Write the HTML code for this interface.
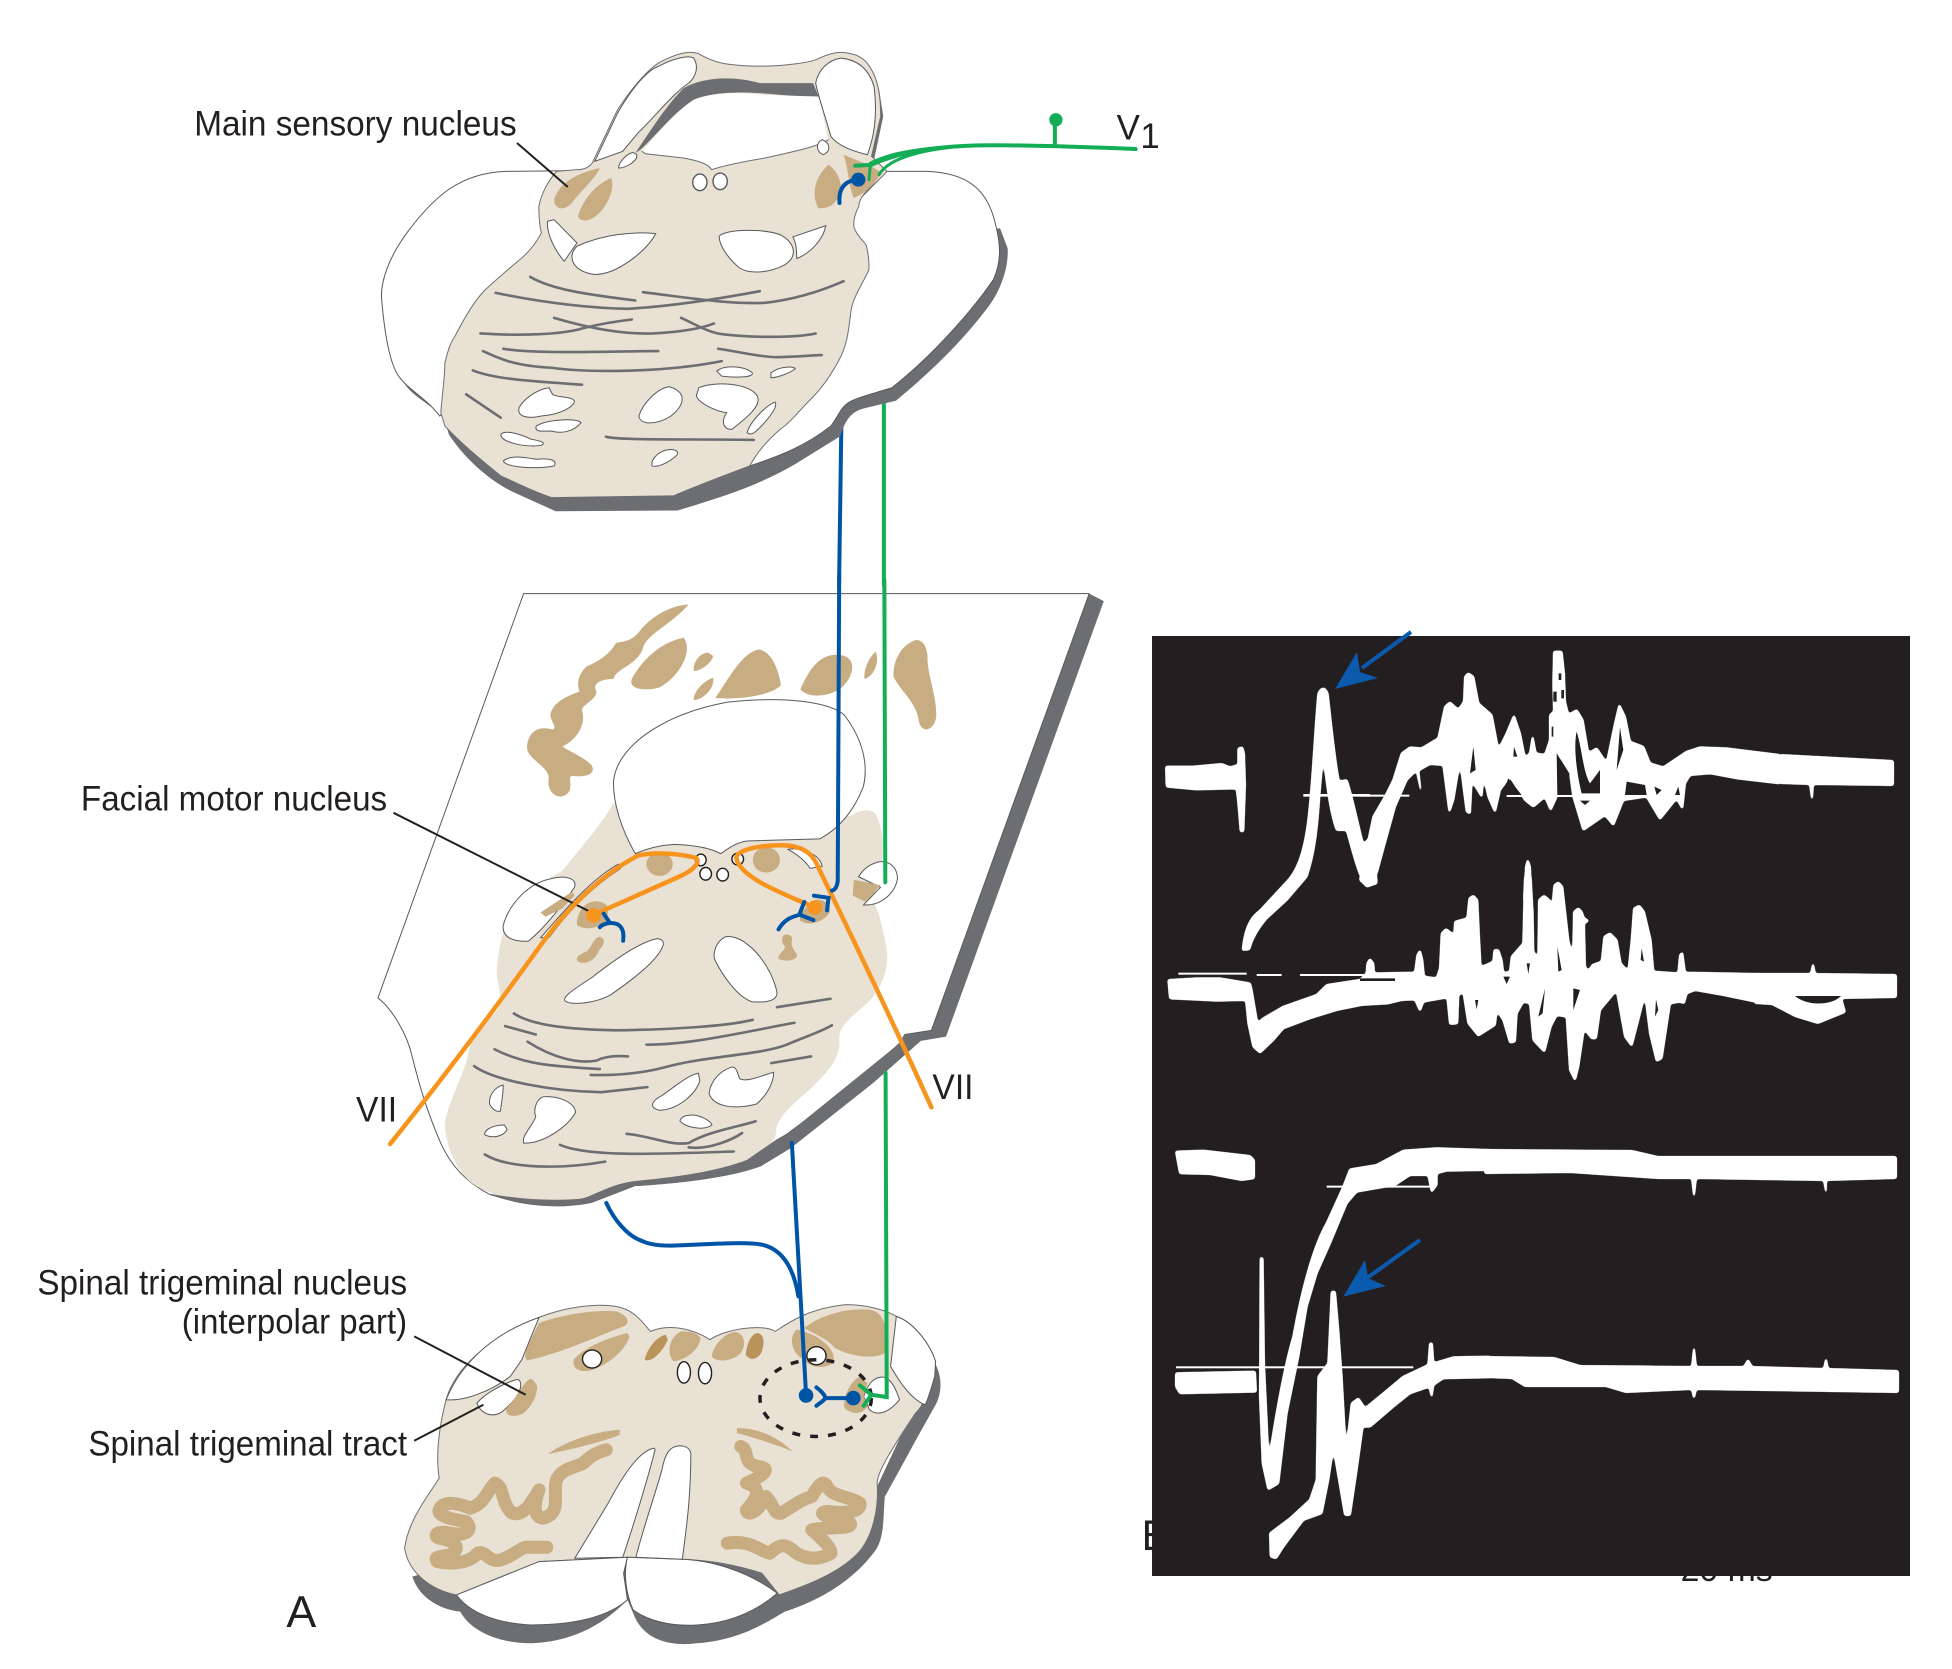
<!DOCTYPE html>
<html><head><meta charset="utf-8"><title>Trigeminal diagram</title>
<style>
html,body{margin:0;padding:0;background:#fff;width:1952px;height:1669px;overflow:hidden}
svg{display:block}
path,ellipse,line,polygon,rect{vector-effect:non-scaling-stroke}
text{font-family:"Liberation Sans",sans-serif;fill:#231f20}
.b{fill:#e9e1d3;stroke:#6d6e71;stroke-width:1}
.bn{fill:#e9e1d3;stroke:none}
.h{fill:#fff;stroke:#58595b;stroke-width:1}
.k{fill:#fff;stroke:#231f20;stroke-width:1.4}
.t{fill:#c8ac82;stroke:none}
.d{fill:#b99359;stroke:none}
.g{fill:#6d6e71;stroke:none}
.f{fill:none;stroke:#6d6e71;stroke-width:2.6;stroke-linecap:round}
.blue{fill:none;stroke:#0054a6;stroke-width:4;stroke-linecap:round;stroke-linejoin:miter}
.green{fill:none;stroke:#12ad55;stroke-width:4;stroke-linecap:round}
.orange{fill:none;stroke:#f7941d;stroke-width:4.5;stroke-linecap:round;stroke-linejoin:round}
.c{fill:none;stroke:#c8ac82;stroke-width:13;stroke-linecap:round;stroke-linejoin:round}
.w{fill:#fff;stroke:none}
.tr{fill:#fff;stroke:#fff;stroke-width:1.5;stroke-linejoin:round;filter:url(#s1)}
.tr2{fill:#fff;stroke:#fff;stroke-width:1.5;stroke-linejoin:round;filter:url(#s2)}
.dk{fill:#231f20;stroke:none}
.lab{fill:none;stroke:#231f20;stroke-width:2}
</style></head><body>
<svg xmlns="http://www.w3.org/2000/svg" width="1952" height="1669" viewBox="0 0 1568 1340.7">
<defs>
<filter id="s1" x="-10%" y="-10%" width="120%" height="120%"><feGaussianBlur stdDeviation="4"/><feComponentTransfer><feFuncA type="linear" slope="5" intercept="-1.5"/></feComponentTransfer></filter>
<filter id="s2" x="-10%" y="-20%" width="120%" height="140%"><feGaussianBlur stdDeviation="1.3"/><feComponentTransfer><feFuncA type="linear" slope="5" intercept="-1.5"/></feComponentTransfer></filter>
</defs>
<rect x="0" y="0" width="1568" height="1341" fill="#fff"/>

<!-- SECTION 2 -->
<g transform="matrix(.39 0 0 .338 288 466)">
<path class="g" d="M1505,32L1535,50L1210,1085L1158,1095L1060,1195L890,1350L830,1392C770,1420 650,1435 570,1440L480,1480C420,1495 330,1490 270,1458L600,1200L1100,1060Z"/>
<path class="h" d="M340,32L1505,32L1180,1070L1125,1080L1115,1100C1040,1180 960,1250 890,1310L800,1390L300,1470L270,1460C220,1430 190,1390 170,1340C140,1260 125,1200 110,1130C100,1080 70,1020 40,993Z"/>
<path class="bn" d="M525,530C500,580 470,620 420,690C380,720 340,740 320,780C295,830 285,890 285,940C290,980 300,1000 280,1030C250,1060 230,1090 225,1130C215,1180 185,1240 178,1290C178,1340 200,1400 230,1430C260,1460 330,1478 400,1480C450,1478 490,1460 540,1440C600,1430 700,1420 800,1380C830,1350 860,1340 860,1310C860,1280 890,1250 930,1210C960,1175 995,1140 990,1090C990,1050 1030,1030 1060,990C1085,950 1095,910 1085,860C1080,830 1075,800 1060,760L1075,680C1085,640 1080,590 1065,555C1050,540 1030,548 1015,560Z"/>
<path class="g" d="M270,1458C330,1472 400,1476 460,1470C490,1460 520,1435 570,1428C650,1420 740,1405 800,1378L860,1330L890,1310L1115,1100L1125,1080L1158,1095L1060,1195L890,1350L830,1392C770,1420 650,1435 570,1440L480,1480C420,1495 330,1490 270,1458Z"/>
<g class="t">
<path d="M680,58C640,60 600,90 580,120C560,150 540,145 530,150C515,180 490,195 470,205C450,225 450,250 455,265C430,275 400,290 395,320C395,335 410,350 400,355C370,345 350,360 347,395C345,425 390,440 392,470C385,510 420,530 435,500C440,480 430,470 440,465C470,470 490,460 480,440C465,420 430,405 420,395C450,380 470,340 460,310C460,295 490,285 490,265C480,245 500,235 525,235C530,210 570,205 585,165C590,130 640,110 680,58Z"/>
<path d="M670,137C630,145 590,180 565,230C550,260 590,265 620,255C660,230 690,170 670,137Z"/>
<path d="M720,172C700,175 690,195 690,215C700,220 730,195 730,180Z"/>
<path d="M730,232C710,240 690,265 690,285C710,285 735,255 730,232Z"/>
<path d="M825,165C790,170 760,240 735,280C780,285 850,275 870,250C865,210 850,170 825,165Z"/>
<path d="M1000,180C950,165 925,220 910,260C930,285 980,275 1000,250C1020,225 1025,190 1000,180Z"/>
<path d="M1065,170C1050,185 1040,215 1042,235C1060,230 1075,195 1065,170Z"/>
<path d="M1150,142C1120,150 1100,190 1102,230C1120,270 1150,290 1155,340C1165,370 1190,350 1190,320C1190,270 1170,220 1172,180C1170,160 1165,145 1150,142Z"/>
</g>
<path class="h" d="M525,480C530,400 620,320 760,290C880,275 970,290 1000,320C1040,380 1050,440 1040,490C1020,550 990,590 950,615L800,620C770,625 750,650 745,650C730,640 700,630 650,628C620,630 590,640 570,650C540,590 525,530 525,480Z"/>
<path class="h" d="M395,710C430,700 450,710 445,730C420,770 390,820 350,858C320,860 295,850 298,820C310,770 350,720 395,710Z"/>
<path class="h" d="M1070,670C1090,665 1110,680 1110,710C1105,745 1075,775 1040,772L1075,730L1030,705C1040,685 1055,675 1070,670Z"/>
<path class="t" d="M1020,712L1075,725L1045,765L1018,750Z"/>
<path class="t" d="M440,740L375,790L385,800L420,780L445,750Z"/>
<path class="h" d="M885,640C910,635 950,650 955,680L930,685C920,665 900,650 885,640Z"/>
<path class="h" d="M535,675C480,710 420,790 375,850L392,850C430,790 480,730 540,685Z"/>
<ellipse class="k" cx="705" cy="665" rx="11" ry="14"/><ellipse class="k" cx="715" cy="698" rx="12" ry="15"/><ellipse class="k" cx="750" cy="700" rx="12" ry="15"/><ellipse class="k" cx="781" cy="663" rx="12" ry="14"/>
<ellipse class="t" cx="620" cy="675" rx="27" ry="28"/><ellipse class="t" cx="840" cy="665" rx="28" ry="30"/>
<path class="t" d="M480,765C460,770 448,800 450,820C470,835 490,825 510,815L515,780C510,765 490,760 480,765Z"/>
<path class="t" d="M940,760C920,775 905,800 910,810C930,825 960,810 970,790C975,770 955,755 940,760Z"/>
<path class="t" d="M495,848C480,855 480,880 465,885C445,895 445,905 460,910C480,910 490,895 495,880C505,870 512,850 495,848Z"/>
<path class="t" d="M880,842C870,845 870,860 878,870C880,880 862,890 865,900C875,908 905,905 903,890C895,875 890,870 893,855C895,848 888,842 880,842Z"/>
<path class="h" d="M615,852C580,860 530,900 480,945C440,975 420,990 425,1000C440,1012 490,1005 520,985C570,945 620,900 628,865C628,855 620,852 615,852Z"/>
<path class="h" d="M755,848C735,860 728,890 735,905C750,940 780,990 810,1002C840,1005 862,1000 862,980C855,940 830,890 800,865C785,850 765,845 755,848Z"/>
<path class="h" d="M298,1200C280,1205 268,1225 270,1245C275,1258 285,1265 292,1262C295,1240 298,1220 298,1200Z"/>
<path class="h" d="M380,1228C365,1235 360,1260 365,1275C360,1295 335,1320 340,1338C380,1340 430,1300 447,1265C445,1240 410,1225 380,1228Z"/>
<path class="h" d="M300,1295C280,1295 258,1305 260,1318C275,1328 300,1322 306,1305Z"/>
<path class="h" d="M700,1172C680,1175 650,1205 625,1225C600,1240 600,1255 620,1260C660,1258 695,1220 703,1190Z"/>
<path class="h" d="M770,1157C745,1165 725,1190 722,1220C730,1250 770,1260 820,1245C845,1220 855,1190 855,1170C835,1175 800,1195 785,1185C780,1170 778,1157 770,1157Z"/>
<path class="h" d="M680,1272C700,1268 725,1285 728,1295C710,1310 670,1300 662,1285C665,1275 675,1272 680,1272Z"/>
<g class="f">
<path d="M862,1015L972,995"/><path d="M320,1030C360,1060 440,1068 530,1070C650,1068 760,1060 812,1045"/><path d="M302,1060L365,1080"/>
<path d="M593,1104C680,1105 790,1075 898,1052"/><path d="M348,1097C400,1135 450,1150 490,1142C510,1130 535,1130 555,1132"/>
<path d="M280,1115C340,1150 390,1155 497,1162"/><path d="M478,1176C540,1178 590,1170 630,1158C720,1130 820,1130 880,1105C920,1085 950,1075 975,1058"/>
<path d="M850,1148L932,1132"/><path d="M238,1155C280,1190 400,1215 500,1217L595,1205"/>
<path d="M552,1316C600,1320 640,1345 680,1338C720,1310 780,1300 818,1286"/><path d="M680,1348C720,1355 770,1330 790,1314"/>
<path d="M415,1342C470,1370 600,1365 773,1358"/><path d="M260,1365C310,1400 420,1400 508,1382"/>
</g>
<path class="green" d="M1083,0L1085,718"/>
<path class="lab" d="M72,553L480,790"/>
<path class="orange" d="M65,1340C170,1190 280,1020 380,860C430,780 500,700 575,655C610,645 660,650 695,660C705,670 690,690 660,705L485,795"/>
<path class="orange" d="M1180,1253C1120,1100 1030,880 950,690C940,660 925,630 870,630C830,630 780,640 778,660C785,700 840,730 940,778"/>
<ellipse cx="484" cy="797" rx="15" ry="17" fill="#f7941d"/><ellipse cx="940" cy="778" rx="15" ry="17" fill="#f7941d"/>
<path class="blue" d="M990,-10L987,715Q985,735 975,738"/>
<path class="blue" d="M938,750L968,755L965,785"/>
<path class="blue" d="M865,830C880,800 900,800 908,795L918,765M908,795L937,808"/>
<path class="blue" d="M545,857C548,830 540,815 520,815C510,815 500,820 497,825M505,793L518,815"/>
</g>

<!-- connecting lines between 1 and 2 -->
<path class="blue" d="M676,330L674,470"/>
<path class="green" d="M710,320V470"/>

<!-- SECTION 1 -->
<g transform="matrix(.408 0 0 .2674 288 24)">
<path class="g" transform="translate(8 6)" d="M75,1030C85,1090 130,1110 160,1160L170,1210C200,1280 250,1350 300,1385L380,1440L620,1438C700,1400 770,1370 850,1300L940,1215C950,1170 960,1140 990,1130L1050,1108C1120,1020 1180,930 1230,830C1260,770 1272,700 1270,650L1255,590L700,700Z"/>
<path class="h" d="M430,423L290,425C200,430 150,500 100,600C60,680 45,750 45,800C50,900 60,990 75,1030C90,1075 130,1100 160,1160L400,800Z"/>
<path class="h" d="M1040,425L1120,425C1200,430 1240,480 1255,590C1265,650 1265,700 1250,750C1210,840 1130,980 1050,1075C1020,1090 990,1100 970,1115C950,1130 945,1160 930,1190C880,1250 830,1280 770,1310L800,800Z"/>
<path class="g" d="M1025,180L1033,260L1015,390L1005,390Z"/>
<path class="b" d="M430,420C445,420 455,410 460,400L510,240C540,170 570,120 590,100C620,75 650,60 670,72C690,90 715,103 740,105C770,110 800,110 830,107C860,103 885,98 900,90C920,75 940,65 955,68C985,72 1000,90 1010,120C1022,150 1028,200 1028,260L1010,380L1040,425C1030,445 1020,455 1010,470C995,490 985,510 985,530C975,560 975,575 975,590C980,620 1000,640 1000,650C1005,680 1005,700 1005,720C990,770 975,800 970,840C965,890 965,930 950,980C930,1040 910,1080 890,1110C870,1140 850,1180 830,1200C800,1240 785,1270 770,1310C700,1350 650,1380 620,1400L380,1405C340,1385 310,1360 280,1340C240,1290 200,1240 170,1190L162,1150C165,1090 170,1040 170,1000C175,970 180,940 190,920C210,860 230,810 250,780C275,745 290,725 310,700C335,670 350,640 360,610C355,580 355,550 355,530C360,490 375,450 390,425Z"/>
<path class="g" d="M545,370C580,290 610,220 640,175C680,140 740,138 790,160L895,160L907,205L790,190C740,185 690,190 660,210C620,250 590,310 555,360Z"/>
<path class="w" d="M558,365C590,310 620,250 660,210C690,190 740,185 790,195L905,200C915,250 920,300 925,330C905,350 860,365 800,385C760,395 725,405 695,420C690,405 675,395 640,385L565,372Z"/>
<path class="f" style="stroke-width:1" d="M558,365L565,372L640,385C675,395 690,405 695,420C725,405 760,395 800,385C860,365 905,350 925,330"/>
<path class="h" d="M465,395L510,250C540,170 570,120 590,110C620,85 650,75 660,85C670,110 665,140 650,160C620,190 590,250 550,310L520,365Z"/>
<path class="h" d="M1002,375C1015,320 1022,260 1015,170C1005,120 985,90 950,85C925,90 905,120 900,160C905,200 915,240 930,320C945,350 975,365 1002,375Z"/>
<ellipse class="k" style="stroke:#58595b" cx="672" cy="458" rx="14" ry="25"/><ellipse class="k" style="stroke:#58595b" cx="712" cy="455" rx="14" ry="25"/>
<path class="h" d="M540,368C525,375 512,400 512,415C525,415 550,395 548,375Z"/>
<path class="h" d="M913,330C900,340 900,365 915,375C930,365 930,340 913,330Z"/>
<path class="t" d="M475,415C430,430 395,460 385,510C385,540 405,545 420,520C440,480 470,440 475,415Z"/>
<path class="t" d="M497,445C460,470 440,520 432,560C440,585 465,570 480,540C495,510 505,470 497,445Z"/>
<path class="t" d="M925,405C900,440 890,490 905,535C925,540 945,520 950,480C950,440 935,415 925,405Z"/>
<path class="t" d="M955,375L1010,410L1030,430C1015,460 1000,490 975,505C965,470 965,420 955,375Z"/>
<path class="h" d="M372,575L385,570L430,640L405,695C385,660 370,610 372,575Z"/>
<path class="h" d="M585,612C540,605 480,615 430,650C410,680 420,725 465,735C510,735 570,660 585,612Z"/>
<path class="h" d="M710,620C720,600 790,595 830,615C860,640 865,680 840,705C810,730 770,735 750,715C730,690 710,650 710,620Z"/>
<path class="h" d="M855,622L920,588C915,630 890,670 863,687C862,660 862,640 855,622Z"/>
<g class="f">
<path d="M338,742C380,780 450,795 545,813"/><path d="M270,790C350,815 440,835 530,838C620,830 720,805 790,785"/>
<path d="M560,788C650,805 730,825 800,820C860,810 910,785 955,755"/><path d="M385,865C440,890 510,915 580,912C630,908 670,900 700,882"/>
<path d="M240,912C320,920 400,915 440,897C470,885 510,875 538,870"/><path d="M635,865C670,890 690,910 720,915C780,925 860,925 900,912"/>
<path d="M285,958C350,975 500,965 590,965"/><path d="M708,958C760,970 800,985 830,983C860,982 890,978 912,977"/>
<path d="M245,965C280,990 310,1010 380,1015C450,1030 600,1030 715,995"/><path d="M225,1023C270,1050 340,1055 440,1066"/>
<path d="M212,1095L280,1165"/><path d="M487,1222C510,1235 700,1228 778,1232"/>
</g>
<path class="h" d="M375,1075C350,1080 325,1110 316,1135C312,1160 330,1170 360,1160C400,1155 425,1130 425,1115C420,1100 390,1105 382,1095Z"/>
<path class="h" d="M705,1025C720,1005 760,1010 775,1030C780,1045 740,1045 715,1040Z"/>
<path class="h" d="M812,1030C830,1010 855,1010 860,1018C850,1030 825,1045 812,1045Z"/>
<path class="h" d="M612,1072C590,1075 560,1120 552,1160C555,1190 590,1185 615,1160C640,1130 650,1090 612,1072Z"/>
<path class="h" d="M670,1075C700,1055 770,1060 785,1100C795,1130 760,1170 735,1200C715,1200 715,1170 725,1150C700,1145 670,1120 665,1100Z"/>
<path class="h" d="M820,1118C800,1130 770,1180 765,1210C775,1225 790,1195 805,1170C815,1150 825,1130 820,1118Z"/>
<path class="h" d="M350,1190C370,1170 430,1165 438,1180C425,1205 400,1215 380,1205C365,1205 345,1210 350,1190Z"/>
<path class="h" d="M280,1215C290,1200 320,1215 340,1230C360,1235 370,1240 360,1248C330,1255 280,1240 280,1215Z"/>
<path class="h" d="M285,1295C300,1275 330,1285 350,1290C380,1285 392,1295 385,1310C350,1320 290,1315 285,1295Z"/>
<path class="h" d="M600,1265C620,1255 635,1265 625,1280C610,1300 590,1315 578,1310C575,1295 585,1275 600,1265Z"/>
<path class="lab" d="M312,340L412,472"/>
<path class="green" d="M1530,358C1400,350 1300,345 1220,347C1130,350 1060,370 1010,405L978,408"/>
<path class="green" style="stroke-width:3" d="M1025,435C1040,395 1090,360 1200,348"/>
<path class="green" style="stroke-width:3" d="M1005,450L1008,400C1040,375 1090,355 1200,348"/>
<path class="green" d="M1371,345V280"/><ellipse cx="1373" cy="270" rx="13" ry="20" fill="#12ad55"/>
<path class="blue" d="M947,520C945,480 955,455 980,450"/><ellipse cx="984" cy="450" rx="14" ry="21" fill="#0054a6"/>
</g>

<!-- SECTION 3 -->
<g transform="matrix(.3086 0 0 .268 303.4 979.7)">
<path class="g" d="M1450,430C1470,470 1470,520 1450,560C1410,640 1350,770 1320,830C1315,900 1320,960 1290,1000C1250,1060 1180,1130 1060,1175C1020,1200 950,1260 830,1270C760,1280 690,1260 665,1180L650,1140C600,1200 520,1265 400,1270C310,1270 240,1230 215,1175C170,1170 110,1140 90,1070L300,1000L1300,800Z"/>
<path class="b" d="M420,293C480,265 560,250 620,260C670,270 690,310 710,335C750,315 810,320 865,360C900,330 1000,310 1035,335C1080,300 1130,265 1220,255C1270,255 1320,270 1350,290C1400,310 1440,380 1452,425L1450,470C1430,520 1420,560 1400,580C1360,650 1300,750 1300,790C1305,860 1290,950 1250,1000C1200,1060 1120,1095 1045,1125L1000,1060C920,1030 850,1020 790,1018L650,1012L420,1025L205,1125C140,1110 80,1060 70,985C80,900 130,830 160,775C150,700 160,620 178,540C200,450 280,360 420,293Z"/>
<path class="h" d="M420,293C280,350 210,450 178,540C230,545 300,510 345,470L375,420Z"/>
<path class="h" d="M1350,290C1400,310 1440,380 1452,425L1450,470C1440,510 1430,545 1425,555C1390,540 1360,490 1335,440Z"/>
<path class="h" d="M205,1125L420,1025L650,1012L640,1060L650,1140C600,1190 520,1215 400,1215C310,1210 240,1180 205,1125Z"/>
<path class="h" d="M650,1012L790,1018C860,1020 960,1050 1040,1120C990,1170 920,1210 830,1215C760,1220 700,1200 665,1170C645,1120 640,1060 650,1012Z"/>
<path class="h" d="M720,685C690,690 650,740 600,850L513,1015L638,1012C670,900 700,790 722,690Z"/>
<path class="h" d="M785,678C760,680 748,700 740,750C720,830 690,930 672,1012L793,1018C800,950 815,850 815,700C812,685 800,678 785,678Z"/>
<path class="h" d="M360,480C330,490 280,520 258,550C270,585 300,595 325,575C350,550 375,520 372,490C370,480 365,478 360,480Z"/>
<path class="h" d="M1310,472C1285,475 1275,500 1265,530L1280,570C1300,590 1330,580 1358,540C1350,510 1335,470 1310,472Z"/>
<path class="t" d="M420,310C480,285 560,270 620,275C650,285 660,310 640,320C570,350 480,400 390,422C375,410 390,380 420,310Z"/>
<path class="t" d="M650,340C600,355 540,380 510,420C505,450 530,460 560,450C610,430 650,380 655,350Z"/>
<ellipse class="k" cx="558" cy="418" rx="25" ry="27"/>
<path class="d" d="M750,345C725,350 700,390 695,420C710,430 740,400 755,360Z"/>
<path class="t" d="M790,335C760,350 750,400 770,425C810,420 840,380 840,355C830,335 805,335 790,335Z"/>
<path class="t" d="M930,337C900,340 870,385 870,410C880,430 925,425 945,400C960,375 955,340 930,337Z"/>
<path class="d" d="M990,340C970,340 960,380 958,405C970,425 990,420 1000,395C1008,365 1005,345 990,340Z"/>
<ellipse class="k" cx="797" cy="458" rx="17" ry="32"/><ellipse class="k" cx="852" cy="460" rx="17" ry="32"/>
<path class="t" d="M1110,325C1160,280 1230,265 1280,270C1330,280 1325,350 1320,400C1290,420 1230,410 1190,385C1170,355 1130,340 1110,325Z"/>
<path class="t" d="M1090,330C1070,350 1075,400 1110,420C1130,450 1170,445 1185,430C1195,400 1170,370 1140,350C1120,340 1105,330 1090,330Z"/>
<ellipse class="k" cx="1142" cy="408" rx="25" ry="27"/>
<path class="t" d="M1255,470C1225,490 1210,540 1215,565C1240,590 1265,580 1275,560L1265,530L1275,490Z"/>
<path class="t" d="M395,478C370,500 360,540 335,565C330,590 355,595 380,580C400,560 415,530 415,500C410,485 400,475 395,478Z"/>
<path class="t" d="M630,630C560,635 480,670 443,703C500,690 590,665 630,645Z"/>
<path class="t" d="M935,625C990,625 1040,650 1080,695C1040,675 970,650 935,640Z"/>
<path class="c" d="M595,690C560,700 545,720 535,730C510,745 480,745 465,780C455,830 480,880 430,895C400,890 410,840 420,810C400,850 380,890 350,880C320,850 330,800 305,790C280,820 280,850 240,865C210,850 170,840 160,870C155,890 200,900 230,905C250,930 230,950 190,940C150,930 145,950 160,955C190,960 225,980 190,1005C160,1010 145,1010 155,1025C190,1035 240,1030 260,1000C280,990 290,1030 320,1020C350,1010 370,985 385,982L440,982"/>
<path class="c" d="M945,680C970,690 945,730 990,740C1030,745 1000,770 960,790C990,800 1000,820 960,870C960,890 990,880 1010,830C1030,850 1030,885 1050,880C1080,860 1100,840 1130,830C1150,790 1160,780 1170,800C1180,830 1230,830 1255,850C1260,880 1210,880 1170,875C1130,880 1200,905 1230,910C1240,930 1160,920 1130,930C1150,950 1180,980 1180,1000C1150,1020 1120,1020 1090,1000C1060,970 1050,970 1020,1000C990,990 970,960 910,970"/>
<ellipse cx="1140" cy="535" rx="145" ry="115" fill="none" stroke="#231f20" stroke-width="3.5" stroke-dasharray="8 10"/>
<path class="lab" d="M95,350L385,525"/>
<path class="lab" d="M95,663L275,555"/>
<path class="blue" d="M1078,-230L1115,525"/>
<path class="blue" d="M595,-50C615,0 650,50 690,65C710,75 735,78 760,78C850,75 950,65 1000,75C1060,90 1085,160 1095,230"/>
<ellipse cx="1115" cy="527" rx="19" ry="22" fill="#0054a6"/><ellipse cx="1238" cy="535" rx="19" ry="22" fill="#0054a6"/>
<path class="blue" d="M1238,535L1165,535M1142,503C1150,510 1165,525 1165,535C1160,545 1150,550 1142,558"/>
<path class="green" d="M1322,-440L1325,532L1285,525M1255,497L1285,525L1265,558"/>
</g>

<!-- labels under panel -->
<text x="917" y="1245" font-size="34" textLength="22" lengthAdjust="spacingAndGlyphs">B</text>
<text x="1350" y="1270" font-size="27" textLength="74" lengthAdjust="spacingAndGlyphs">20 ms</text>

<!-- PANEL -->
<rect x="925.4" y="510.9" width="608.9" height="755.1" fill="#231f20"/>

<!-- trace 1 left, trace 2 left: crop frame (1150,670) -->
<g transform="translate(923.77 538.2) scale(.26776)">
<path class="tr" d="M48,290L130,290L215,282L240,292L265,285L265,235L277,232L282,250L285,345L280,484L272,484L265,400L260,355L140,358L50,350Z"/>
<path class="tr" d="M278,840C283,790 295,745 330,722L415,630C450,590 470,520 480,400C490,300 497,150 505,70Q520,40 533,70C542,150 555,280 567,335L590,330C605,370 625,470 640,525L670,490L680,640L650,650C625,620 605,530 590,480L560,480C545,440 535,380 524,285L516,285L508,380C500,500 490,560 470,620L410,690L350,745C320,780 305,810 298,838Z"/>
<rect class="w" x="460" y="372" width="200" height="8"/>
<rect class="w" x="85" y="908" width="205" height="6"/><rect class="w" x="320" y="912" width="75" height="6"/><rect class="w" x="450" y="912" width="210" height="6"/>
<path class="tr" d="M55,930L140,925L210,925L300,940L305,960L322,1060L340,1045L400,1010L500,975L530,945L660,925L660,1000L560,1020L480,1045L400,1075L370,1110L330,1148L310,1130L295,1060L288,990L200,992L60,985Z"/>
</g>

<!-- trace 1 right: crop frame (1360,640) -->
<g transform="translate(1092.46 514.1) scale(.26776)">
<path class="tr" d="M40,530L75,470L100,420L125,340L150,322L185,325L235,295L255,200L270,187L295,210L312,185L315,110L325,100L340,110L355,190L395,225L415,330L440,280L462,227L480,280L495,355L510,340L518,290L527,340L555,345L570,300L570,225L582,215L580,130L582,35L605,35L612,100L615,185L625,225L650,210L668,240L685,340L710,325L740,370L765,250L778,195L795,230L810,305L850,320L870,370L910,382L980,335L1020,322L1100,325L1260,345L1260,430L1130,415L1050,400L990,405L975,430L967,505L950,475L900,537L860,470L790,480L760,555L735,525L670,570L640,470L630,400L595,340L590,470L572,510L555,470L520,500L495,480L450,410L420,450L405,515L385,470L370,400L365,470L335,420L330,520L320,515L300,360L280,480L268,515L250,375L210,372L175,392L182,450L170,390L140,420L105,500L80,590L50,700L20,738L0,720Z"/>
<path class="dk" d="M650,275C640,320 650,400 665,460L720,460L720,390L690,430C670,400 665,320 650,275Z"/>
<path class="dk" d="M780,262L770,390L790,330Z"/>
<path class="dk" d="M800,425L795,465L860,465L855,435Z"/>
<path class="dk" d="M883,440L905,450L890,465Z"/>
<path class="dk" d="M945,465L960,465L955,440Z"/>
<path class="dk" d="M660,482L690,482L675,495Z"/>
<path class="dk" d="M445,415L485,465L425,465Z"/>
<path class="dk" d="M462,320L472,350L460,350Z"/>
<path class="dk" d="M340,320L330,400L347,390Z"/>
<path class="dk" d="M590,340L592,465L630,465L628,400Z"/>
<path class="dk" d="M580,155h10v30h-10zM596,100h8v20h-8zM604,150h8v25h-8zM575,260h5v30h-5z"/>
<rect class="w" x="0" y="464" width="148" height="6"/><rect class="w" x="440" y="465" width="530" height="6"/>
</g>
<!-- trace 1 far right, trace 2 far right: original pixels -->
<g transform="scale(.80328)">
<path class="tr2" d="M1780,755L1893,761L1893,785L1813,784L1812,799L1810,784L1780,783Z"/>
<path class="tr2" d="M1755,974L1811,974L1813,964L1815,974L1896,975L1896,997L1841,998L1845,1012L1818,1023L1795,1016L1772,1004L1755,1003Z"/>
<path class="dk" d="M1795,996H1841C1833,1005 1808,1007 1795,996Z"/>
<path fill="none" stroke="#0b5aad" stroke-width="4" d="M1411,632L1362,668"/>
<polygon fill="#0b5aad" points="1335,689 1357,652 1360,672 1378,678"/>
</g>

<!-- trace 2 middle: crop frame (1360,880) -->
<g transform="translate(1092.46 706.9) scale(.26776)">
<path class="tr" d="M0,300L20,280L22,250L30,237L40,250L42,280L165,278L172,225L180,212L187,240L192,290L230,295L240,265L245,160L258,147L275,160L282,180L285,125L322,115L328,55L340,47L352,60L357,170L362,262L400,245L403,210L415,210L425,240L430,280L450,275L455,230L490,190L493,60L495,-10L512,-10L518,100L520,215L535,240L537,60L552,47L568,60L575,105L583,15L595,7L607,20L625,180L632,215L640,200L642,95L655,85L665,95L672,115L685,122L672,130L675,260L685,275L697,255L725,245L733,170L750,160L770,180L782,250L805,275L815,180L822,85L838,77L852,95L872,180L880,275L955,280L960,225L967,218L975,278L1200,282L1200,368L1090,345L1005,330L980,340L972,370L960,365L930,370L905,535L890,543L870,460L855,340L835,420L815,497L795,470L770,330L720,390L708,475L695,475L672,445L655,560L645,600L630,570L620,410L590,405L572,440L553,515L520,480L510,370L490,365L470,400L465,485L450,488L430,420L410,390L405,435L355,467L325,430L310,335L295,345L292,430L270,432L262,352L190,365L180,392L165,358L125,360L85,370L0,375Z"/>
<path class="tr" d="M492,60L498,-40L503,-60L510,-40L514,60Z"/>
<path class="dk" d="M592,200L605,270L595,275Z"/>
<path class="dk" d="M500,250L510,250L505,282Z"/>
<path class="dk" d="M430,290L450,290L440,312Z"/>
<path class="dk" d="M845,205L852,245L842,240Z"/>
<path class="dk" d="M555,325L535,410L548,400Z"/>
<path class="dk" d="M640,325L660,330L640,390Z"/>
<path class="dk" d="M345,360L355,360L350,388Z"/>
<path class="dk" d="M888,358L885,410L895,390Z"/>
<path class="dk" d="M0,295L105,295L105,303L0,303Z"/>
</g>

<!-- traces 3 and 4 left: crop frame (1170,1130) -->
<g transform="translate(939.83 907.7) scale(.26776)">
<path class="tr" d="M18,65L100,62L240,78L252,90L252,145L215,150L120,132L30,130Z"/>
<path class="tr" d="M272,383L278,385L282,700L296,1000C310,900 340,720 370,620C395,480 430,350 470,280L520,170L540,118L620,105L700,62L800,55L960,60L960,120L830,122L800,130L800,165L785,185L775,135L720,135L675,165L560,185L530,220L480,340L440,430L410,530L385,680L350,850L325,1060L295,1078L278,1000L270,800Z"/>
<rect class="w" x="470" y="167" width="310" height="6"/>
<rect class="w" x="18" y="709" width="712" height="6"/>
<path class="tr" d="M18,730L255,725L258,785L30,790L18,770Z"/>
<path class="tr" d="M300,1210L360,1165L420,1110L440,1050L445,740L475,700L485,485L495,485L505,600L515,740L528,975L545,820L565,805L585,835L640,790L700,740L775,705L780,640L786,640L790,700L850,682L960,680L960,742L820,745L790,765L785,800L778,770L720,790L670,830L600,890L578,890L560,1020L540,1155L525,1155L490,950L475,1050L455,1150L400,1170L340,1250L318,1285L302,1280Z"/>
<path fill="none" stroke="#0b5aad" stroke-width="4" d="M750,330L590,445"/>
<polygon fill="#0b5aad" points="520,500 585,390 595,445 648,468"/>
</g>
<!-- traces 3 and 4 right: original pixels -->
<g transform="scale(.80328)">
<path class="tr2" d="M1485,1150L1632,1151L1658,1157L1896,1157L1896,1178L1826,1180L1826,1192L1824,1180L1696,1178L1694,1196L1692,1178L1658,1178L1570,1172L1485,1173Z"/>
<path class="tr2" d="M1485,1357L1554,1358L1580,1366L1692,1367L1694,1348L1696,1367L1744,1367L1748,1360L1752,1367L1824,1369L1826,1359L1828,1369L1898,1371L1898,1392L1696,1389L1694,1398L1692,1389L1626,1392L1606,1386L1525,1386L1512,1378L1485,1377Z"/>
</g>

<!-- LABELS -->
<g font-size="28">
<text x="156" y="109" textLength="259" lengthAdjust="spacingAndGlyphs">Main sensory nucleus</text>
<text x="65" y="651" textLength="246" lengthAdjust="spacingAndGlyphs">Facial motor nucleus</text>
<text x="30" y="1040" textLength="297" lengthAdjust="spacingAndGlyphs">Spinal trigeminal nucleus</text>
<text x="146" y="1071" textLength="181" lengthAdjust="spacingAndGlyphs">(interpolar part)</text>
<text x="71" y="1169" textLength="256" lengthAdjust="spacingAndGlyphs">Spinal trigeminal tract</text>
<text x="286" y="901" textLength="33" lengthAdjust="spacingAndGlyphs">VII</text>
<text x="749" y="883" textLength="33" lengthAdjust="spacingAndGlyphs">VII</text>
<text x="897" y="112">V</text>
<text x="916" y="119">1</text>
</g>
<text x="230" y="1307" font-size="36">A</text>
</svg>
</body></html>
